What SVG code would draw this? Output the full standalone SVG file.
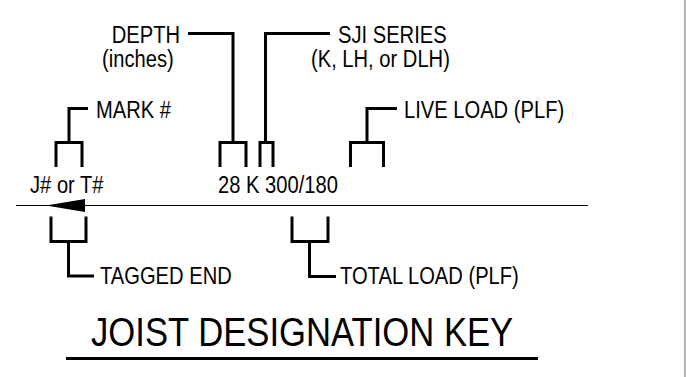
<svg xmlns="http://www.w3.org/2000/svg" width="686" height="377" viewBox="0 0 686 377">
<style>
.t{font-family:"Liberation Sans",Arial,sans-serif;font-size:24px;fill:#000}
.ttl{font-family:"Liberation Sans",Arial,sans-serif;font-size:41.5px;fill:#000}
.br{fill:none;stroke:#000;stroke-width:3;stroke-linejoin:miter;stroke-linecap:butt}
</style>
<rect width="686" height="377" fill="#fff"/>
<line x1="685" y1="0" x2="685" y2="377" stroke="#666" stroke-width="1"/>
<g id="designation">
<text class="t" transform="translate(30,193) scale(0.84,1)">J# or T#</text>
<text class="t" transform="translate(218,193) scale(0.84,1)">28 K 300/180</text>
</g>
<g id="joist-line">
<line x1="16" y1="205.5" x2="588" y2="205.5" stroke="#000" stroke-width="1.2"/>
<polygon points="46,205.5 85,199 85,212" fill="#000"/>
</g>
<g id="depth">
<text class="t" text-anchor="end" transform="translate(180,43) scale(0.84,1)">DEPTH</text>
<text class="t" transform="translate(102,67) scale(0.84,1)">(inches)</text>
</g>
<g id="sji-series">
<text class="t" transform="translate(338,43) scale(0.84,1)">SJI SERIES</text>
<text class="t" transform="translate(311,67) scale(0.84,1)">(K, LH, or DLH)</text>
</g>
<g id="mark">
<text class="t" transform="translate(96,118) scale(0.84,1)">MARK #</text>
</g>
<g id="live-load">
<text class="t" transform="translate(404,118) scale(0.84,1)">LIVE LOAD (PLF)</text>
</g>
<g id="tagged-end">
<text class="t" transform="translate(100,284) scale(0.84,1)">TAGGED END</text>
</g>
<g id="total-load">
<text class="t" transform="translate(340,284) scale(0.84,1)">TOTAL LOAD (PLF)</text>
</g>
<g id="title">
<text class="ttl" transform="translate(91,346) scale(0.835,1)">JOIST DESIGNATION KEY</text>
<line x1="66" y1="358.5" x2="538" y2="358.5" stroke="#000" stroke-width="3"/>
</g>
<g id="connectors">
<path class="br" d="M188,33.5 H233 V142.5"/>
<path class="br" d="M220,167 V142.5 H246 V167"/>
<path class="br" d="M330,33.5 H265.5 V142.5"/>
<path class="br" d="M260,167 V142.5 H273 V167"/>
<path class="br" d="M88,108.5 H69 V142.5"/>
<path class="br" d="M56,167 V142.5 H82 V167"/>
<path class="br" d="M397,108.5 H367 V142.5"/>
<path class="br" d="M350.5,167 V142.5 H383.5 V167"/>
<path class="br" d="M51,216.5 V241.5 H86 V216.5"/>
<path class="br" d="M68.5,241.5 V276 H94"/>
<path class="br" d="M292,216.5 V241.5 H328 V216.5"/>
<path class="br" d="M309.5,241.5 V276.5 H336"/>
</g>
</svg>
